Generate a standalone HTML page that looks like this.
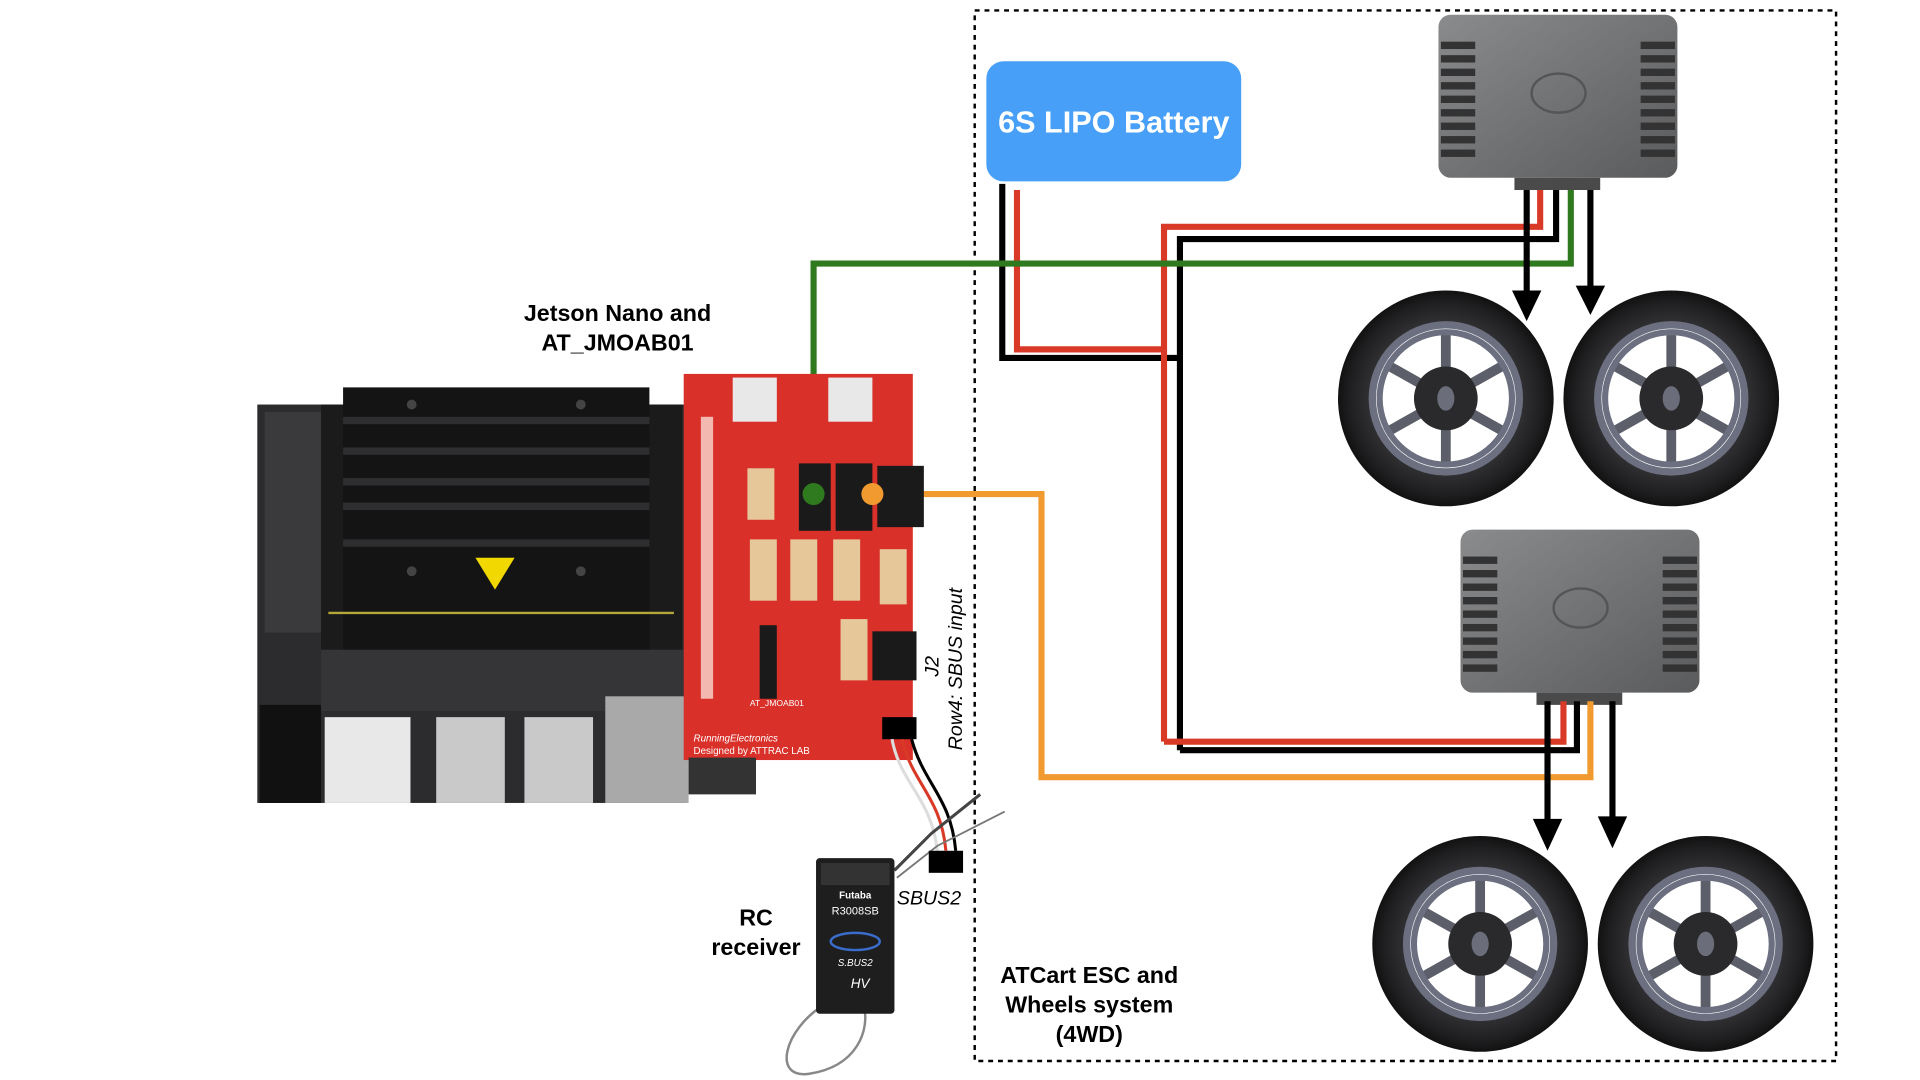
<!DOCTYPE html>
<html><head><meta charset="utf-8"><style>
html,body{margin:0;padding:0;background:#fff;width:1920px;height:1080px;overflow:hidden}
svg{display:block}
text{font-family:"Liberation Sans",Arial,sans-serif}
</style></head><body>
<svg width="1920" height="1080" viewBox="0 0 1567 881" preserveAspectRatio="none" xmlns="http://www.w3.org/2000/svg">
<defs>
<radialGradient id="tire" cx="50%" cy="50%" r="50%">
<stop offset="0.6" stop-color="#3a3a3c"/><stop offset="0.9" stop-color="#1e1e20"/><stop offset="1" stop-color="#111"/>
</radialGradient>
<linearGradient id="esc" x1="0" y1="0" x2="1" y2="1"><stop offset="0" stop-color="#8a8b8d"/><stop offset="1" stop-color="#5a5b5d"/></linearGradient>
<g id="wheel">
<ellipse rx="88" ry="88" fill="url(#tire)"/>
<circle r="63" fill="#6c6f80"/>
<circle r="57" fill="#fff"/>
<g stroke="#5c5f6a" stroke-width="8">
<line x1="0" y1="-20" x2="0" y2="-56"/><line x1="17" y1="-10" x2="49" y2="-28"/><line x1="17" y1="10" x2="49" y2="28"/>
<line x1="0" y1="20" x2="0" y2="56"/><line x1="-17" y1="10" x2="-49" y2="28"/><line x1="-17" y1="-10" x2="-49" y2="-28"/>
</g>
<circle r="54" fill="none" stroke="#6c6f80" stroke-width="5"/>
<circle r="26" fill="#2a2a2c"/>
<ellipse rx="7" ry="10" fill="#6b6e7a"/>
</g>
<g id="escbox">
<rect x="0" y="0" width="195" height="133" rx="10" fill="url(#esc)"/>
<g fill="#333"><rect x="2" y="22" width="28" height="6"/><rect x="2" y="33" width="28" height="6"/><rect x="2" y="44" width="28" height="6"/><rect x="2" y="55" width="28" height="6"/><rect x="2" y="66" width="28" height="6"/><rect x="2" y="77" width="28" height="6"/><rect x="2" y="88" width="28" height="6"/><rect x="2" y="99" width="28" height="6"/><rect x="2" y="110" width="28" height="6"/>
<rect x="165" y="22" width="28" height="6"/><rect x="165" y="33" width="28" height="6"/><rect x="165" y="44" width="28" height="6"/><rect x="165" y="55" width="28" height="6"/><rect x="165" y="66" width="28" height="6"/><rect x="165" y="77" width="28" height="6"/><rect x="165" y="88" width="28" height="6"/><rect x="165" y="99" width="28" height="6"/><rect x="165" y="110" width="28" height="6"/></g>
<ellipse cx="98" cy="64" rx="22" ry="16" fill="none" stroke="#555" stroke-width="2"/>
<rect x="62" y="133" width="70" height="10" fill="#4a4a4a"/>
</g>
</defs>

<rect x="795.5" y="8.5" width="703" height="857" fill="none" stroke="#000" stroke-width="2" stroke-dasharray="4,4"/>

<rect x="805" y="50" width="208" height="98" rx="14" fill="#479ff8"/>
<text x="909" y="108" font-size="25" font-weight="bold" fill="#fff" text-anchor="middle">6S LIPO Battery</text>

<use href="#escbox" x="1174" y="12"/>
<use href="#escbox" x="1192" y="432"/>

<use href="#wheel" x="1180" y="325"/>
<use href="#wheel" x="1364" y="325"/>
<use href="#wheel" x="1208" y="770"/>
<use href="#wheel" x="1392" y="770"/>

<g fill="none" stroke-width="5">
<polyline points="818,150 818,292 963,292" stroke="#000"/>
<polyline points="830,155 830,285 950,285" stroke="#d93a28"/>
<polyline points="950,605 950,185 1257,185 1257,155" stroke="#d93a28"/>
<polyline points="963,612 963,195 1270,195 1270,155" stroke="#000"/>
<polyline points="664,403 664,215 1282,215 1282,155" stroke="#2f7a1e"/>
<polyline points="950,605 1276,605 1276,572" stroke="#d93a28"/>
<polyline points="963,612 1287,612 1287,572" stroke="#000"/>
<polyline points="712,403 850,403 850,634 1298,634 1298,572" stroke="#f09a30"/>
<line x1="1246" y1="155" x2="1246" y2="240" stroke="#000"/>
<line x1="1298" y1="155" x2="1298" y2="236" stroke="#000"/>
<line x1="1263" y1="572" x2="1263" y2="672" stroke="#000"/>
<line x1="1316" y1="572" x2="1316" y2="670" stroke="#000"/>
</g>
<g fill="#000">
<polygon points="1234,237 1258,237 1246,262"/>
<polygon points="1286,233 1310,233 1298,257"/>
<polygon points="1251,668 1275,668 1263,694"/>
<polygon points="1304,666 1328,666 1316,692"/>
</g>

<rect x="210" y="330" width="350" height="325" fill="#2c2c2e"/>
<rect x="216" y="336" width="50" height="180" fill="#3a3a3c"/>
<rect x="262" y="330" width="295" height="215" fill="#1b1b1c"/>
<rect x="280" y="316" width="250" height="215" fill="#141414"/>
<g fill="#2e2e30"><rect x="280" y="340" width="250" height="6"/><rect x="280" y="365" width="250" height="6"/><rect x="280" y="390" width="250" height="6"/><rect x="280" y="410" width="250" height="6"/><rect x="280" y="440" width="250" height="6"/></g>
<line x1="268" y1="500" x2="550" y2="500" stroke="#b5a838" stroke-width="2"/>
<polygon points="388,455 420,455 404,481" fill="#f0d800"/>
<circle cx="336" cy="330" r="4" fill="#444"/><circle cx="474" cy="330" r="4" fill="#444"/><circle cx="336" cy="466" r="4" fill="#444"/><circle cx="474" cy="466" r="4" fill="#444"/>
<rect x="262" y="530" width="298" height="50" fill="#353537"/>
<rect x="212" y="575" width="50" height="80" fill="#111"/>
<rect x="265" y="585" width="70" height="70" fill="#e8e8e8"/>
<rect x="356" y="585" width="56" height="70" fill="#c9c9c9"/>
<rect x="428" y="585" width="56" height="70" fill="#c9c9c9"/>
<rect x="494" y="568" width="68" height="87" fill="#a9a9a9"/>
<rect x="558" y="305" width="187" height="315" fill="#d9302a"/>
<rect x="562" y="618" width="55" height="30" fill="#333"/>
<rect x="598" y="308" width="36" height="36" fill="#e8e8e8"/><rect x="676" y="308" width="36" height="36" fill="#e8e8e8"/>
<g fill="#1a1a1a"><rect x="652" y="378" width="26" height="55"/><rect x="682" y="378" width="30" height="55"/><rect x="716" y="380" width="38" height="50"/><rect x="712" y="515" width="36" height="40"/><rect x="620" y="510" width="14" height="60"/></g>
<g fill="#e6c79a"><rect x="610" y="382" width="22" height="42"/><rect x="612" y="440" width="22" height="50"/><rect x="645" y="440" width="22" height="50"/><rect x="680" y="440" width="22" height="50"/><rect x="718" y="448" width="22" height="45"/><rect x="686" y="505" width="22" height="50"/></g>
<g fill="#f3b8b0"><rect x="572" y="340" width="10" height="230"/></g>
<text x="612" y="576" font-size="7" fill="#fff" font-family="Liberation Mono">AT_JMOAB01</text>
<text x="566" y="605" font-size="8" fill="#fff" font-style="italic">RunningElectronics</text>
<text x="566" y="615" font-size="8" fill="#fff" font-family="Liberation Mono">Designed by ATTRAC LAB</text>
<circle cx="664" cy="403" r="9" fill="#2f7a1e"/>
<circle cx="712" cy="403" r="9" fill="#f09a30"/>

<rect x="720" y="585" width="28" height="18" fill="#000"/>
<g fill="none" stroke-width="2.5">
<path d="M728,603 C735,640 760,650 765,694" stroke="#ddd"/>
<path d="M736,603 C745,640 768,650 772,694" stroke="#d93a28"/>
<path d="M744,603 C754,640 776,650 780,694" stroke="#000"/>
<path d="M730,710 L760,680 L800,648" stroke="#444"/>
<path d="M732,716 L765,690 L820,662" stroke="#777" stroke-width="1.5"/>
</g>
<rect x="758" y="694" width="28" height="18" fill="#000"/>

<path d="M672,820 C640,840 630,880 660,876 C700,870 710,840 705,820" fill="none" stroke="#888" stroke-width="2"/>
<rect x="666" y="700" width="64" height="127" rx="3" fill="#1e1e1e"/>
<rect x="670" y="704" width="56" height="18" fill="#333"/>
<text x="698" y="733" font-size="8" font-weight="bold" fill="#fff" text-anchor="middle">Futaba</text>
<text x="698" y="746" font-size="9" fill="#fff" text-anchor="middle">R3008SB</text>
<ellipse cx="698" cy="768" rx="20" ry="7" fill="none" stroke="#3a6ccc" stroke-width="2"/>
<text x="698" y="788" font-size="8" font-style="italic" fill="#fff" text-anchor="middle">S.BUS2</text>
<text x="702" y="806" font-size="11" font-style="italic" fill="#fff" text-anchor="middle">HV</text>

<g font-weight="bold" font-size="19" text-anchor="middle" fill="#000">
<text x="504" y="262">Jetson Nano and</text>
<text x="504" y="286">AT_JMOAB01</text>
<text x="617" y="755">RC</text>
<text x="617" y="779">receiver</text>
<text x="889" y="802">ATCart ESC and</text>
<text x="889" y="826">Wheels system</text>
<text x="889" y="850">(4WD)</text>
</g>
<text x="732" y="738" font-size="16" font-style="italic">SBUS2</text>
<g transform="translate(766,552) rotate(-90)"><text x="0" y="0" font-size="16" font-style="italic">J2</text></g>
<g transform="translate(785,612) rotate(-90)"><text x="0" y="0" font-size="16" font-style="italic">Row4: SBUS input</text></g>
</svg>
</body></html>
